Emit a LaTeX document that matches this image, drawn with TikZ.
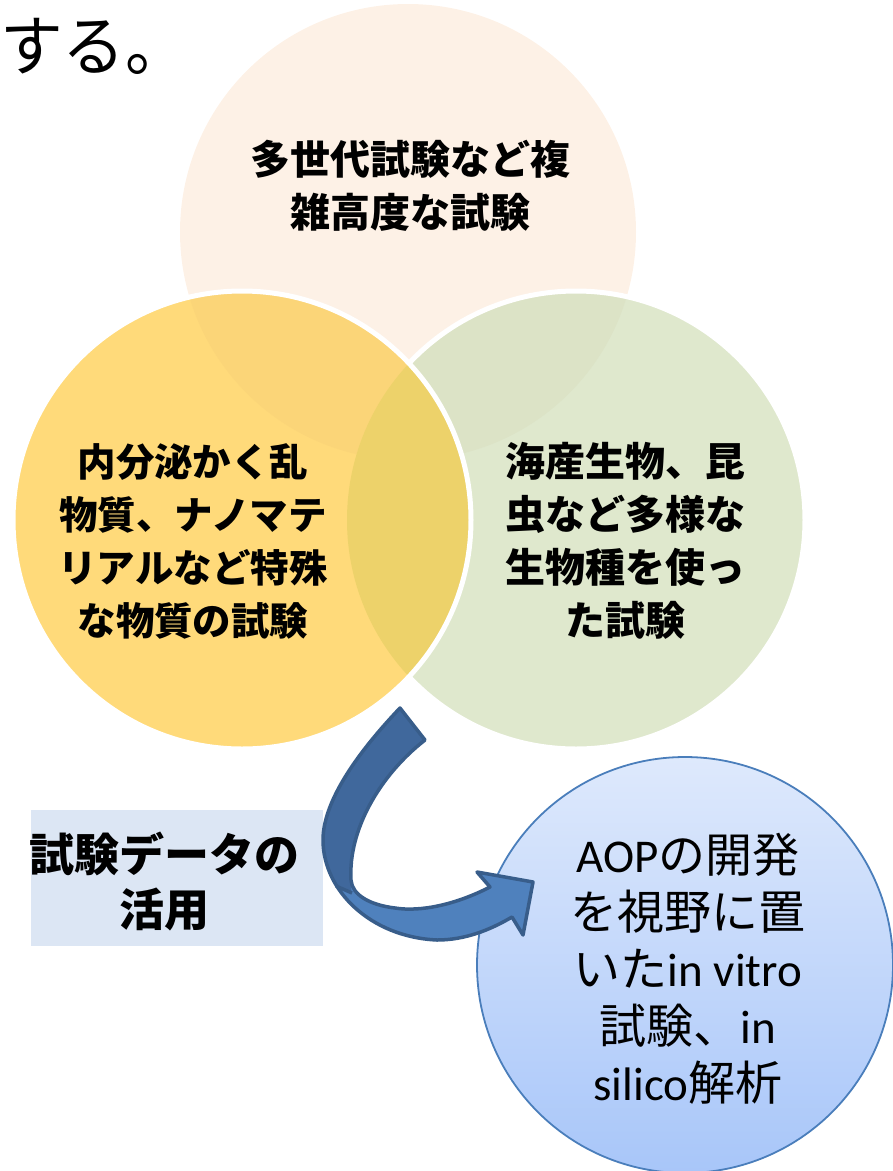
\documentclass[tikz,border=0pt]{standalone}
\usepackage{fontspec}
\setmainfont{Carlito}
\newfontfamily\jp{Noto Sans CJK JP}
\newfontfamily\lat{Carlito}
\definecolor{peach}{RGB}{253,241,230}
\definecolor{grn}{RGB}{223,232,205}
\definecolor{grntop}{RGB}{220,227,198}
\definecolor{yel}{RGB}{255,218,122}
\definecolor{yeltop}{RGB}{251,213,120}
\definecolor{lens}{RGB}{237,210,106}
\definecolor{boxblue}{RGB}{220,230,244}
\definecolor{cirtop}{RGB}{222,233,252}
\definecolor{cirbot}{RGB}{168,198,249}
\definecolor{cirline}{RGB}{74,126,187}
\definecolor{arfront}{RGB}{79,129,189}
\definecolor{arback}{RGB}{64,104,156}
\definecolor{arline}{RGB}{56,93,138}
\tikzset{
  venntext/.style={font=\jp\bfseries\fontsize{40}{53}\selectfont, align=center, text=black},
  ringline/.style={draw=white, line width=5pt},
}
\begin{document}
\begin{tikzpicture}[x=1pt,y=-1pt]
\useasboundingbox (0,0) rectangle (893,1171);
% top partial title
\node[anchor=base west, inner sep=0pt, font=\jp\fontsize{66}{66}\selectfont, xscale=0.95] (title) at (0,70) {する。};
% top circle
\fill[peach] (408,232) circle (228pt);
% green circle
\fill[grn] (576,520) circle (229pt);
\begin{scope}
  \clip (408,232) circle (228pt);
  \fill[grntop] (576,520) circle (229pt);
\end{scope}
\draw[ringline] (576,520) circle (229pt);
% yellow circle
\fill[yel] (242,520) circle (229pt);
\begin{scope}
  \clip (408,232) circle (228pt);
  \fill[yeltop] (242,520) circle (229pt);
\end{scope}
\begin{scope}
  \clip (576,520) circle (229pt);
  \fill[lens] (242,520) circle (229pt);
\end{scope}
\draw[ringline] (242,520) circle (229pt);
% texts in venn
\node[venntext] (ttop) at (410,186) {多世代試験など複\\雑高度な試験};
\node[venntext, font=\jp\bfseries\fontsize{38.5}{53}\selectfont] (tleft) at (193,541) {内分泌かく乱\\物質、ナノマテ\\リアルなど特殊\\な物質の試験};
\node[venntext] (tright) at (625,541) {海産生物、昆\\虫など多様な\\生物種を使っ\\た試験};
% box
\node[fill=boxblue, minimum width=292pt, minimum height=136pt, inner sep=0pt] (box) at (177,878) {};
\node[font=\jp\bfseries\fontsize{45}{55}\selectfont, align=center, inner sep=0pt] (boxtext) at (165,882) {試験データの\\活用};
% blue circle
\shade[top color=cirtop, bottom color=cirbot] (685,965) circle (208pt);
\draw[cirline, line width=1.8pt] (685,965) circle (208pt);
\node[align=center, font=\fontsize{47}{57}\selectfont] (aop) at (688,969)
  {{\lat AOP}{\jp の開発}\\{\jp を視野に置}\\{\jp いた}{\lat in vitro}\\{\jp 試験、}{\lat in}\\{\lat silico}{\jp 解析}};
% arrow
\coordinate (tailout) at (400,708);
\coordinate (tailin) at (425,740);
\coordinate (tip) at (533,882);
\fill[arfront] (tailout) .. controls (360,750) and (323,800) .. (323,840)
  .. controls (323,890) and (370,937) .. (437,940)
  .. controls (465,940) and (490,930) .. (512,917)
  -- (523,935) -- (tip) -- (477,872) -- (490,887)
  .. controls (455,905) and (420,912) .. (395,908)
  .. controls (370,905) and (352,895) .. (351,880)
  .. controls (348,830) and (380,775) .. (tailin) -- cycle;
\fill[arback] (tailout) .. controls (360,750) and (323,800) .. (323,840)
  .. controls (323,860) and (327,874) .. (336,886)
  -- (352,893) .. controls (351,890) and (351,885) .. (351,880)
  .. controls (348,830) and (380,775) .. (tailin) -- cycle;
\draw[arline, line width=3.5pt, line join=round] (tailout) .. controls (360,750) and (323,800) .. (323,840)
  .. controls (323,890) and (370,937) .. (437,940)
  .. controls (465,940) and (490,930) .. (512,917)
  -- (523,935) -- (tip) -- (477,872) -- (490,887)
  .. controls (455,905) and (420,912) .. (395,908)
  .. controls (370,905) and (352,895) .. (351,880)
  .. controls (348,830) and (380,775) .. (tailin) -- cycle;
\draw[arline, line width=3.5pt] (336,886) -- (352,893);
\end{tikzpicture}
\end{document}
